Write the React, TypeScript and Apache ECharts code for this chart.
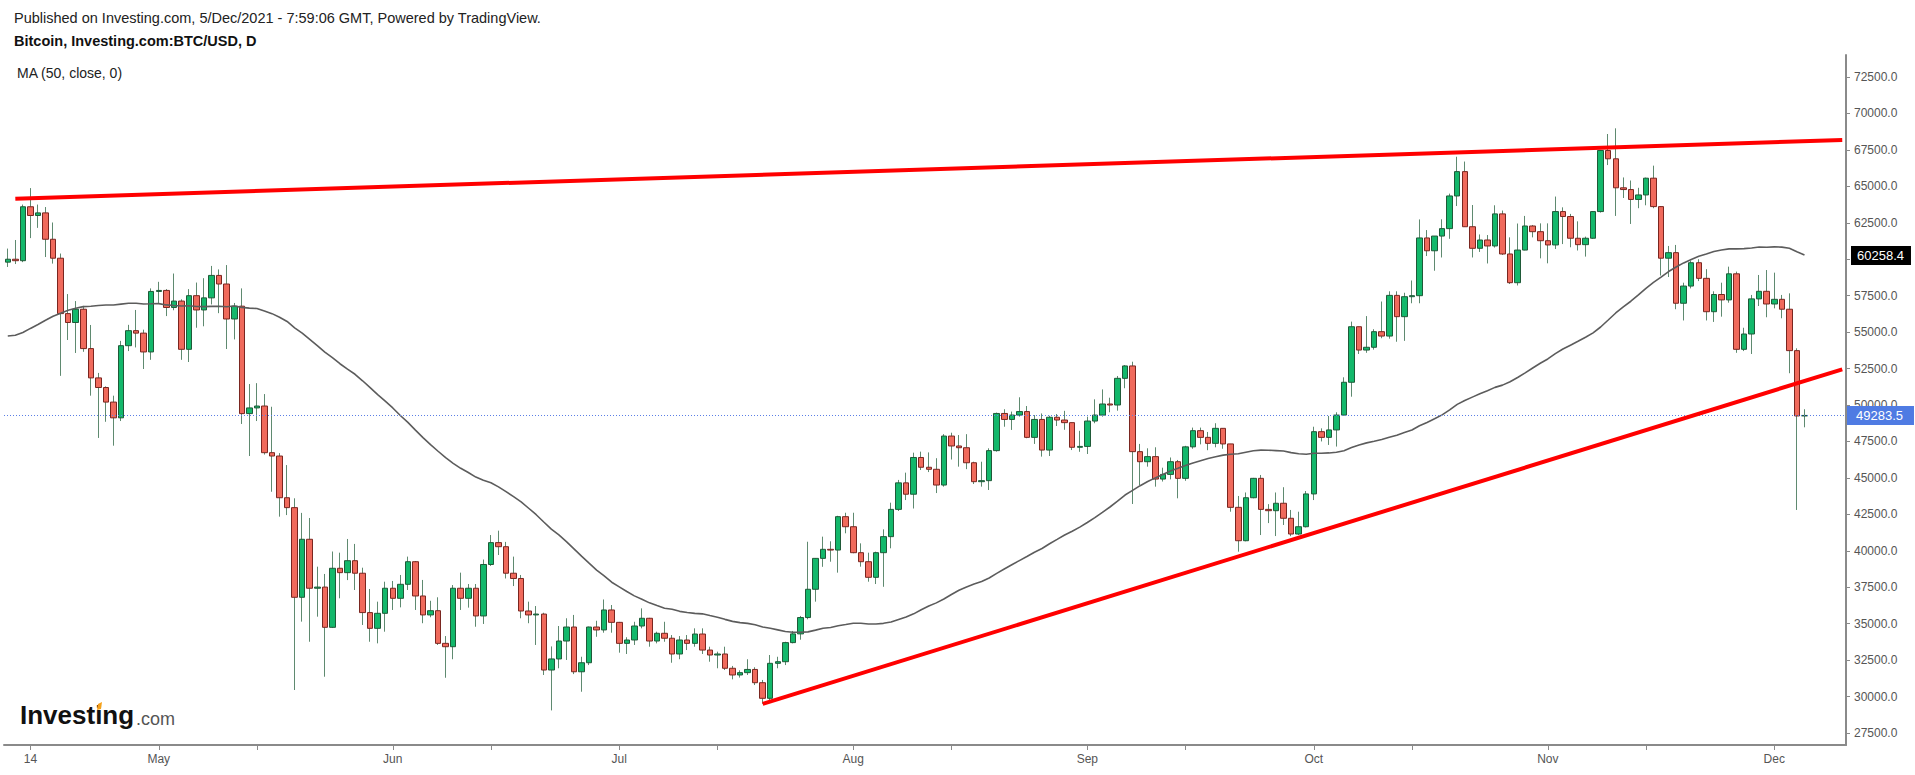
import React, { useEffect, useRef } from "react";
import * as echarts from "echarts";

// Daily candles, each row: [open, close, low, high]
const april = [
  [59800, 60000, 59470, 60730], [60000, 59900, 59670, 61320], [59900, 63600, 59800, 63750],
  [63600, 63000, 61450, 64880], [63000, 63180, 62150, 63750], [63180, 61370, 60150, 63580],
  [61370, 60070, 59700, 62520], [60070, 56270, 52000, 60390], [56270, 55660, 54460, 57610],
  [55660, 56570, 53570, 57130], [56570, 53870, 53650, 56800], [53870, 51860, 50640, 55490],
  [51860, 51200, 47740, 52200], [51200, 50200, 48850, 51280], [50200, 49120, 47210, 50640],
  [49120, 54070, 48900, 54400], [54070, 55100, 53700, 55500], [55100, 54930, 53950, 56520],
  [54930, 53640, 52470, 55170], [53640, 57790, 53100, 58000],
];
const may = [
  [57790, 57860, 57000, 58450], [57860, 56690, 56100, 57950], [56690, 57130, 56500, 59020],
  [57130, 53820, 53100, 57250], [53820, 57500, 52950, 57950], [57500, 56520, 55300, 58400],
  [56520, 57350, 55400, 58700], [57350, 58890, 56900, 59540], [58890, 58300, 56300, 59300],
  [58300, 55900, 53840, 59600], [55900, 56780, 54500, 57000], [56780, 49410, 48700, 58000],
  [49410, 49800, 46500, 51440], [49800, 49930, 48900, 51500], [49930, 46730, 46600, 50750],
  [46730, 46500, 44050, 49880], [46500, 43640, 42340, 46700], [43640, 42960, 42450, 45880],
  [42960, 36810, 30450, 43600], [36810, 40790, 35140, 42600], [40790, 37430, 33760, 42250],
  [37430, 37510, 35480, 38910], [37510, 34750, 31360, 38410], [34750, 38800, 34700, 39950],
  [38800, 38500, 36740, 39870], [38500, 39320, 37990, 40810], [39320, 38460, 37310, 40470],
  [38460, 35760, 34910, 38840], [35760, 34680, 33760, 37380], [34680, 35710, 33650, 36510],
  [35710, 37430, 34450, 37880],
];
const june = [
  [37430, 36740, 35940, 37930], [36740, 37700, 36120, 38340], [37700, 39250, 37310, 39600],
  [39250, 36900, 35940, 39300], [36900, 35600, 35030, 38000], [35600, 35890, 35440, 36570],
  [35890, 33650, 33540, 36810], [33650, 33420, 31290, 34150], [33420, 37430, 32560, 37650],
  [37430, 36740, 35940, 38500], [36740, 37430, 36100, 37720], [37430, 35530, 34790, 37720],
  [35530, 39060, 34980, 39400], [39060, 40560, 38960, 41080], [40560, 40280, 39710, 41380],
  [40280, 38460, 38100, 40610], [38460, 38100, 37580, 39600], [38100, 35870, 35370, 38340],
  [35870, 35600, 35030, 36510], [35600, 35660, 33540, 36210], [35660, 31820, 31480, 35750],
  [31820, 32580, 29050, 33440], [32580, 33810, 31940, 34840], [33810, 34770, 32510, 35370],
  [34770, 31700, 31540, 35600], [31700, 32320, 30330, 32730], [32320, 34770, 32160, 34800],
  [34770, 34570, 34100, 35200], [34570, 35940, 34380, 36660], [35940, 35090, 34380, 36280],
];
const july = [
  [35090, 33650, 33010, 35120], [33650, 33880, 32920, 34070], [33880, 34840, 33540, 35130],
  [34840, 35370, 34680, 36050], [35370, 33810, 33420, 35400], [33810, 34340, 33650, 34450],
  [34340, 34000, 33760, 35130], [34000, 32920, 32320, 34220], [32920, 33880, 32560, 34150],
  [33880, 33650, 33190, 34220], [33650, 34290, 33420, 34680], [34290, 33190, 32920, 34680],
  [33190, 32850, 32390, 33420], [32850, 32920, 31940, 33080], [32920, 31940, 31820, 33420],
  [31940, 31480, 31180, 32100], [31480, 31640, 31300, 31800], [31640, 31860, 31480, 32560],
  [31860, 30950, 30790, 32010], [30950, 29880, 29500, 31140], [29880, 32280, 29600, 32850],
  [32280, 32390, 31940, 32730], [32390, 33700, 32160, 33760], [33700, 34300, 33650, 34500],
  [34300, 35420, 33900, 35530], [35420, 37360, 35300, 40620], [37360, 39480, 36510, 39500],
  [39480, 40100, 38900, 40970], [40100, 40050, 39250, 40650], [40050, 42340, 38500, 42400],
  [42340, 41650, 41200, 42610],
];
const august = [
  [41650, 39870, 39830, 42610], [39870, 39250, 38910, 40510], [39250, 38180, 37880, 39870],
  [38180, 39870, 37720, 39940], [39870, 40970, 37530, 41470], [40970, 42840, 40170, 43300],
  [42840, 44660, 42730, 44860], [44660, 43880, 43480, 45360], [43880, 46400, 42900, 46730],
  [46400, 45730, 45540, 46800], [45730, 45590, 45400, 46750], [45590, 44510, 43960, 46350],
  [44510, 47870, 44400, 48000], [47870, 47190, 46260, 48100], [47190, 47070, 45770, 47940],
  [47070, 46040, 45600, 48000], [46040, 44740, 44580, 46110], [44740, 44810, 44400, 46110],
  [44810, 46870, 44170, 47030], [46870, 49420, 46800, 49480], [49420, 49010, 48510, 49710],
  [49010, 49310, 48290, 49550], [49310, 49550, 49200, 50530], [49550, 47780, 47720, 49930],
  [47780, 49010, 47330, 49310], [49010, 46910, 46460, 49420], [46910, 49160, 46500, 49260],
  [49160, 48970, 48560, 49380], [48970, 48790, 48300, 49600], [48790, 47100, 46910, 48790],
  [47100, 47160, 46790, 48230],
];
const september = [
  [47160, 48900, 46640, 49200], [48900, 49310, 48750, 50390], [49310, 50070, 49200, 51070],
  [50070, 50000, 49500, 50500], [50000, 51830, 49610, 51990], [51830, 52680, 51150, 52740],
  [52680, 46800, 43210, 52970], [46800, 46110, 44510, 47330], [46110, 46460, 45770, 47030],
  [46460, 44920, 44400, 47100], [44920, 45240, 44750, 45700], [45240, 46110, 44900, 46400],
  [46110, 44970, 43600, 46230], [44970, 47130, 44800, 47200], [47130, 48240, 47000, 48450],
  [48240, 47780, 47300, 48450], [47780, 47370, 46900, 48150], [47370, 48400, 47100, 48750],
  [48400, 47330, 47000, 48400], [47330, 42980, 42680, 47330], [42980, 40690, 39940, 43760],
  [40690, 43640, 40650, 44000], [43640, 44970, 43600, 45000], [44970, 42840, 41080, 45200],
  [42840, 42750, 41900, 43200], [42750, 43260, 41010, 44000], [43260, 42230, 41770, 44360],
  [42230, 41150, 41000, 42800], [41150, 41650, 41080, 42680], [41650, 43900, 41600, 44100],
];
const october = [
  [43900, 48170, 43480, 48510], [48170, 47780, 47500, 48400], [47780, 48290, 47260, 49250],
  [48290, 49310, 47150, 49500], [49310, 51560, 49300, 51900], [51560, 55370, 50570, 55720],
  [55370, 53770, 53500, 55370], [53770, 53960, 53580, 56100], [53960, 55030, 53800, 55200],
  [55030, 54730, 54580, 57100], [54730, 57520, 54550, 57800], [57520, 56060, 54340, 57800],
  [56060, 57430, 54400, 57700], [57430, 57500, 56980, 58540], [57500, 61460, 56980, 62730],
  [61460, 60580, 60220, 62000], [60580, 61590, 59210, 61590], [61590, 62100, 60120, 62740],
  [62100, 64340, 61400, 64500], [64340, 66010, 63650, 67030], [66010, 62230, 62230, 66700],
  [62230, 60750, 60120, 63720], [60750, 61320, 60500, 61700], [61320, 60910, 59710, 61660],
  [60910, 63110, 60800, 63700], [63110, 60360, 60290, 63340], [60360, 58390, 58300, 61500],
  [58390, 60630, 58200, 62450], [60630, 62280, 60610, 62970], [62280, 61890, 61500, 62350],
  [61890, 61270, 60060, 62460],
];
const november = [
  [61270, 60980, 59720, 62460], [60980, 63270, 60700, 64300], [63270, 62930, 61040, 63560],
  [62930, 61440, 60820, 63110], [61440, 61000, 60600, 62600], [61000, 61440, 60180, 61550],
  [61440, 63270, 61400, 63300], [63270, 67460, 63200, 67500], [67460, 66890, 66460, 68590],
  [66890, 64900, 62970, 68980], [64900, 64780, 64200, 65610], [64780, 64100, 62420, 65400],
  [64100, 64410, 63500, 64900], [64410, 65560, 63700, 65600], [65560, 63610, 63500, 66420],
  [63610, 60070, 58880, 63650], [60070, 60450, 58780, 60910], [60450, 56980, 56570, 60980],
  [56980, 58160, 55800, 58390], [58160, 59760, 58000, 59900], [59760, 58690, 58500, 60000],
  [58690, 56400, 55800, 59320], [56400, 57580, 55700, 57800], [57580, 57210, 56060, 58390],
  [57210, 59000, 57020, 59490], [59000, 53820, 53580, 59150], [53820, 54870, 53700, 55300],
  [54870, 57280, 53500, 57550], [57280, 57800, 56790, 58920], [57800, 56930, 56020, 59260],
];
const december = [
  [56930, 57250, 56630, 59080], [57250, 56570, 55950, 57550], [56570, 53730, 52180, 57660],
  [53730, 49250, 42800, 53890], [49250, 49283.5, 48470, 49710],
];

// Closes of the 49 sessions before the first candle (warm-up for the 50-day MA)
const priorCloses = [
  57490, 54100, 48890, 49680, 47070, 46280, 46110, 45140,
  49630, 48380, 50540, 48440, 48860, 48880, 50970, 52380, 54880, 55860, 57330, 57230,
  61190, 59000, 55630, 56900, 58910, 57650, 58030, 58100, 57350, 54080, 54340, 52300,
  51300, 55070, 55840, 55780, 57630, 58730, 58740,
  58720, 58960, 57060, 58200, 59130, 57990, 56000, 58030, 58100, 59770,
];

const yTicks = [27500, 30000, 32500, 35000, 37500, 40000, 42500, 45000, 47500, 50000, 52500, 55000, 57500, 60000, 62500, 65000, 67500, 70000, 72500];
const monthNames = ["Jan", "Feb", "Mar", "Apr", "May", "Jun", "Jul", "Aug", "Sep", "Oct", "Nov", "Dec"];
const firstDay = "2021-04-11";
const slotCount = 244; // trading days shown plus empty right margin
const lastPrice = 49283.5;
const maLastLabel = 60258.4;
// trend lines: [category date, price]
const upperTrend = [["2021-04-12", 64150], ["2021-12-10", 68180]];
const lowerTrend = [["2021-07-20", 29500], ["2021-12-10", 52450]];

const candles = [...april, ...may, ...june, ...july, ...august, ...september, ...october, ...november, ...december];

const categories: string[] = (() => {
  const start = Date.parse(firstDay + "T00:00:00Z");
  const out: string[] = [];
  for (let i = 0; i < slotCount; i++) out.push(new Date(start + i * 86400000).toISOString().slice(0, 10));
  return out;
})();

const maValues = (() => {
  const all = [...priorCloses, ...candles.map((c) => c[1])];
  return candles.map((_, i) => {
    const end = priorCloses.length + i;
    let s = 0;
    for (let k = end - 49; k <= end; k++) s += all[k];
    return +(s / 50).toFixed(1);
  });
})();

const bodies = candles.map((c) => [c[0], c[1], Math.min(c[0], c[1]), Math.max(c[0], c[1])]);

const dayOf = (v: string) => parseInt(v.slice(8, 10), 10);
const monthOf = (v: string) => parseInt(v.slice(5, 7), 10) - 1;

const FONT = '"Liberation Sans", Arial, sans-serif';

export default function App() {
  const ref = useRef<HTMLDivElement>(null);
  useEffect(() => {
    if (!ref.current) return;
    const chart = echarts.init(ref.current, undefined, { renderer: "svg" });
    const wick = "#5f8a70";
    chart.setOption({
      animation: false,
      backgroundColor: "#ffffff",
      grid: { left: 4, top: 55, width: 1842, height: 690 },
      xAxis: {
        type: "category",
        data: categories,
        boundaryGap: true,
        axisLine: { show: true, lineStyle: { color: "#8a8a8a", width: 2 } },
        axisTick: {
          show: true,
          alignWithLabel: true,
          length: 5,
          interval: (_i: number, v: string) => dayOf(v) === 1 || dayOf(v) === 14,
          lineStyle: { color: "#8a8a8a", width: 1 },
        },
        axisLabel: {
          interval: (_i: number, v: string) => dayOf(v) === 1 || v === "2021-04-14",
          formatter: (v: string) => (dayOf(v) === 1 ? monthNames[monthOf(v)] : v === "2021-04-14" ? "14" : ""),
          color: "#555",
          fontSize: 12,
          fontFamily: '"Liberation Sans Narrow", "Arial Narrow", sans-serif',
          margin: 8,
        },
        splitLine: { show: false },
      },
      yAxis: {
        type: "value",
        position: "right",
        min: 26677,
        max: 74010,
        scale: true,
        axisLine: { show: true, lineStyle: { color: "#8a8a8a", width: 2 } },
        axisTick: { show: true, length: 4, customValues: yTicks, lineStyle: { color: "#8a8a8a" } },
        axisLabel: {
          customValues: yTicks,
          formatter: (v: number) => v.toFixed(1),
          color: "#555",
          fontSize: 12,
          fontFamily: FONT,
          margin: 8,
        },
        splitLine: { show: false },
      },
      series: [
        {
          type: "candlestick",
          name: "wicks",
          data: candles,
          barWidth: 1,
          itemStyle: { color: wick, color0: wick, borderColor: wick, borderColor0: wick, borderWidth: 1 },
          silent: true,
        },
        {
          type: "candlestick",
          name: "BTC/USD",
          data: bodies,
          barWidth: 6,
          itemStyle: {
            color: "#13b86b",
            color0: "#f06a5c",
            borderColor: "#1f5a38",
            borderColor0: "#7a2620",
            borderWidth: 1,
          },
          markLine: {
            silent: true,
            symbol: ["none", "none"],
            animation: false,
            data: [
              {
                yAxis: lastPrice,
                lineStyle: { color: "#5b7fe6", type: [1, 2], width: 1 },
                label: {
                  show: true,
                  position: "end",
                  distance: 1,
                  formatter: () => lastPrice.toFixed(1),
                  backgroundColor: "#4f7be3",
                  color: "#fff",
                  fontSize: 13,
                  fontFamily: FONT,
                  padding: [3, 11, 3, 9],
                },
              },
              [
                { coord: upperTrend[0], lineStyle: { color: "#ff0000", width: 4, type: "solid" }, label: { show: false } },
                { coord: upperTrend[1] },
              ],
              [
                { coord: lowerTrend[0], lineStyle: { color: "#ff0000", width: 4, type: "solid" }, label: { show: false } },
                { coord: lowerTrend[1] },
              ],
            ],
          },
        },
        {
          type: "line",
          name: "MA (50, close, 0)",
          data: maValues,
          showSymbol: false,
          symbol: "none",
          lineStyle: { color: "#5c5c5c", width: 1.6 },
          z: 3,
          markLine: {
            silent: true,
            symbol: ["none", "none"],
            data: [
              {
                yAxis: maLastLabel,
                lineStyle: { color: "rgba(0,0,0,0)", width: 0 },
                label: {
                  show: true,
                  position: "end",
                  distance: 5,
                  formatter: () => maLastLabel.toFixed(1),
                  backgroundColor: "#000000",
                  color: "#ffffff",
                  opacity: 1,
                  fontSize: 13,
                  fontFamily: FONT,
                  padding: [3, 7, 3, 6],
                },
              },
            ],
          },
        },
      ],
      graphic: [
        {
          type: "text",
          left: 14,
          top: 10,
          style: {
            text: "Published on Investing.com, 5/Dec/2021 - 7:59:06 GMT, Powered by TradingView.",
            font: '14.5px "Liberation Sans", Arial, sans-serif',
            fill: "#222",
          },
        },
        {
          type: "text",
          left: 14,
          top: 33,
          style: {
            text: "Bitcoin, Investing.com:BTC/USD, D",
            font: 'bold 14.5px "Liberation Sans", Arial, sans-serif',
            fill: "#111",
          },
        },
        {
          type: "text",
          left: 17,
          top: 66,
          style: {
            text: "MA (50, close, 0)",
            font: '14px "Liberation Sans", Arial, sans-serif',
            fill: "#222",
          },
        },
        {
          type: "text",
          left: 20,
          top: 702,
          style: {
            text: "Investing",
            font: 'bold 26px "Liberation Sans", Arial, sans-serif',
            fill: "#111",
          },
        },
        {
          type: "polygon",
          shape: { points: [[98, 704], [102, 702], [101, 709], [97, 710]] },
          style: { fill: "#f6a01a" },
        },
        {
          type: "text",
          left: 136,
          top: 710,
          style: {
            text: ".com",
            font: '18px "Liberation Sans", Arial, sans-serif',
            fill: "#555",
          },
        },
      ],
    });
    return () => chart.dispose();
  }, []);
  return (
    <div
      ref={ref}
      style={{ position: "fixed", left: 0, top: 0, width: 1915, height: 775, background: "#fff" }}
    />
  );
}
